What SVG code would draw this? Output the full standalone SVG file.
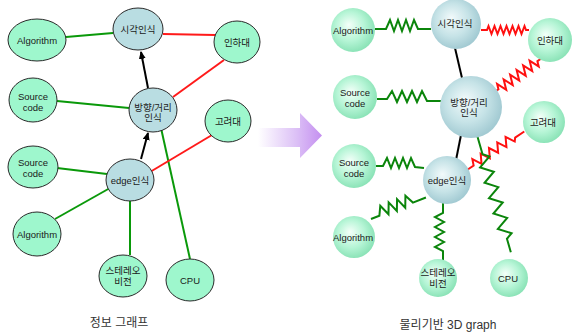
<svg xmlns="http://www.w3.org/2000/svg" width="576" height="334" viewBox="0 0 576 334">
  <defs>
    <style>
      text { font-family: "Liberation Sans", "Noto Sans CJK KR", sans-serif; font-size: 9.5px; fill: #1a1a1a; text-anchor: middle; }
      .title { font-size: 12px; fill: #333; }
      .lg { fill: #9ef7cd; stroke: #2a2a2a; stroke-width: 1; }
      .lb { fill: #b9dde2; stroke: #2a2a2a; stroke-width: 1; }
      .rg { fill: url(#gGreen); }
      .rb { fill: url(#gBlue); }
      .eg { stroke: #0a990a; stroke-width: 2; fill: none; }
      .er { stroke: #ff1a1a; stroke-width: 2; fill: none; }
      .ek { stroke: #000; stroke-width: 2; fill: none; }
      .sg { stroke: #0b850b; stroke-width: 2; fill: none; stroke-linejoin: miter; }
      .sr { stroke: #ff1010; stroke-width: 2; fill: none; stroke-linejoin: miter; }
    </style>
    <marker id="ah" markerWidth="8" markerHeight="8" refX="7" refY="3.5" orient="auto" markerUnits="userSpaceOnUse">
      <path d="M0,0 L8,3.5 L0,7 z" fill="#000"/>
    </marker>
    <radialGradient id="gGreen" cx="0.45" cy="0.45" r="0.6" fx="0.4" fy="0.38">
      <stop offset="0" stop-color="#f4fff9"/>
      <stop offset="0.55" stop-color="#b6f5d6"/>
      <stop offset="1" stop-color="#84e0b2"/>
    </radialGradient>
    <radialGradient id="gBlue" cx="0.45" cy="0.45" r="0.6" fx="0.4" fy="0.38">
      <stop offset="0" stop-color="#f2fafb"/>
      <stop offset="0.55" stop-color="#c6e3e7"/>
      <stop offset="1" stop-color="#9cc6cf"/>
    </radialGradient>
    <linearGradient id="gArrow" gradientUnits="userSpaceOnUse" x1="258" y1="0" x2="322" y2="0">
      <stop offset="0" stop-color="#ffffff"/>
      <stop offset="0.6" stop-color="#dcc0f6"/>
      <stop offset="1" stop-color="#c48ff0"/>
    </linearGradient>
  </defs>

  <rect width="576" height="334" fill="#ffffff"/>

  <!-- information graph: connectors -->
  <g id="info-edges">
    <line class="eg" x1="66" y1="37" x2="113" y2="33"/>
    <line class="er" x1="163" y1="34" x2="215" y2="35"/>
    <line class="ek" x1="148" y1="88" x2="141" y2="52" marker-end="url(#ah)"/>
    <line class="er" x1="173" y1="97" x2="224" y2="60"/>
    <line class="eg" x1="57" y1="101" x2="129" y2="108"/>
    <line class="eg" x1="161" y1="128" x2="190" y2="259"/>
    <line class="ek" x1="141" y1="159" x2="148" y2="133" marker-end="url(#ah)"/>
    <line class="er" x1="150" y1="172" x2="212" y2="135"/>
    <line class="eg" x1="57" y1="168" x2="107" y2="174"/>
    <line class="eg" x1="55" y1="219" x2="110" y2="188"/>
    <line class="eg" x1="130" y1="201" x2="130" y2="255"/>
  </g>

  <!-- information graph: nodes -->
  <g id="l-algorithm-1"><ellipse class="lg" cx="37" cy="40" rx="29" ry="21"/><text x="37" y="43.5">Algorithm</text></g>
  <g id="l-visual"><ellipse class="lb" cx="138" cy="29" rx="25" ry="21"/><text x="138" y="32.5">시각인식</text></g>
  <g id="l-inha"><ellipse class="lg" cx="237" cy="42" rx="23" ry="21"/><text x="237" y="45.5">인하대</text></g>
  <g id="l-source-1"><ellipse class="lg" cx="33" cy="100" rx="24" ry="22"/><text x="33" y="100">Source</text><text x="33" y="111">code</text></g>
  <g id="l-direction"><ellipse class="lb" cx="153" cy="110" rx="24" ry="22"/><text x="153" y="111">방향/거리</text><text x="153" y="121">인식</text></g>
  <g id="l-korea"><ellipse class="lg" cx="228" cy="121" rx="23" ry="21"/><text x="228" y="124.5">고려대</text></g>
  <g id="l-source-2"><ellipse class="lg" cx="33" cy="167" rx="25" ry="21"/><text x="33" y="166">Source</text><text x="33" y="177">code</text></g>
  <g id="l-edge"><ellipse class="lb" cx="130" cy="180" rx="24" ry="21"/><text x="130" y="183.5">edge인식</text></g>
  <g id="l-algorithm-2"><ellipse class="lg" cx="37" cy="234" rx="24" ry="22"/><text x="37" y="237.5">Algorithm</text></g>
  <g id="l-stereo"><ellipse class="lg" cx="123" cy="276" rx="24" ry="21"/><text x="123" y="273.5">스테레오</text><text x="123" y="285">비전</text></g>
  <g id="l-cpu"><ellipse class="lg" cx="190" cy="280" rx="24" ry="21"/><text x="190" y="283.5">CPU</text></g>

  <text class="title" x="119" y="327">정보 그래프</text>

  <!-- transition arrow -->
  <g id="transition-arrow">
    <path d="M258,128 H300 V113 L322,135.5 L300,158 V147 H258 z" fill="url(#gArrow)"/>
  </g>

  <!-- physics graph: spring connectors -->
  <g id="physics-edges">
    <line class="ek" x1="455" y1="48" x2="462" y2="78"/>
    <line class="ek" x1="461" y1="135" x2="456" y2="160"/>
    <!-- Algorithm - 시각인식 -->
    <path class="sg" d="M375,29 H386 L390,20 L394,31 L398,20 L402,31 L406,20 L410,31 L414,20 L418,29 H431"/>
    <!-- 시각인식 - 인하대 -->
    <path class="sr" d="M481,30 H487 l1.5,-4 l3,8 l3,-8 l3,8 l3,-8 l3,8 l3,-8 l3,8 l3,-8 l3,8 l3,-8 l3,8 l3,-8 l1.5,4 H529"/>
    <!-- Source code - 방향/거리 -->
    <path class="sg" d="M377,99 H387 L392,91 L397,102 L402,91 L407,102 L412,91 L417,102 L422,91 L427,101 H441"/>
    <!-- Source code - edge인식 -->
    <path class="sg" d="M376,166 H383 L387,158 L391,168 L395,158 L399,168 L403,158 L407,168 L411,158 L415,167 L424,168"/>
    <!-- Algorithm - edge인식 -->
    <path class="sg" transform="translate(371,219) rotate(-21.4)" d="M0,0 h9 l4.5,-9 l4.5,11 l4.5,-11 l4.5,11 l4.5,-11 l4.5,11 l4.5,-11 l4.5,9 h14"/>
    <!-- edge인식 - 스테레오 비전 -->
    <path class="sg" d="M443,202 V213 L435,217 L444,222 L435,227 L444,232 L435,237 L444,242 L435,247 L443,251 V262"/>
    <!-- 방향/거리 - 인하대 -->
    <path class="sr" transform="translate(496,91) rotate(-35.7)" d="M0,0 h3 l2,-5 l4,10 l4,-10 l4,10 l4,-10 l4,10 l4,-10 l4,10 l4,-10 l4,10 l4,-10 l4,10 l2,-5 h6"/>
    <!-- edge인식 - 고려대 -->
    <path class="sr" transform="translate(467,170) rotate(-33.9)" d="M0,0 h8 l2.5,-6 l5,9 l5,-9 l5,9 l5,-9 l5,9 l5,-9 l5,9 l5,-9 l5,9 l2.5,-3 h11"/>
    <!-- 방향/거리 - CPU -->
    <path class="sg" transform="translate(477,135) rotate(73.9)" d="M0,0 h20 l4,-6 l8,12 l8,-12 l8,12 l8,-12 l8,12 l8,-12 l8,12 l8,-12 l8,12 l8,-12 l4,6 h14"/>
  </g>

  <!-- physics graph: nodes -->
  <g id="p-algorithm-1"><circle class="rg" cx="353" cy="30" r="22"/><text x="353" y="34">Algorithm</text></g>
  <g id="p-visual"><circle class="rb" cx="456" cy="24" r="25"/><text x="455" y="26.5">시각인식</text></g>
  <g id="p-inha"><circle class="rg" cx="550" cy="40" r="22"/><text x="550" y="44">인하대</text></g>
  <g id="p-source-1"><circle class="rg" cx="355" cy="97" r="22"/><text x="355" y="95.5">Source</text><text x="355" y="106.5">code</text></g>
  <g id="p-direction"><circle class="rb" cx="471" cy="107" r="31"/><text x="469" y="105.5">방향/거리</text><text x="469" y="116">인식</text></g>
  <g id="p-korea"><circle class="rg" cx="544" cy="122" r="21"/><text x="543" y="125.5">고려대</text></g>
  <g id="p-source-2"><circle class="rg" cx="354" cy="166" r="22"/><text x="354" y="165.5">Source</text><text x="354" y="176.5">code</text></g>
  <g id="p-edge"><circle class="rb" cx="447" cy="180" r="24"/><text x="447" y="184">edge인식</text></g>
  <g id="p-algorithm-2"><circle class="rg" cx="354" cy="237" r="21"/><text x="353" y="241">Algorithm</text></g>
  <g id="p-stereo"><circle class="rg" cx="438" cy="278" r="19"/><text x="438" y="276">스테레오</text><text x="438" y="286.5">비전</text></g>
  <g id="p-cpu"><circle class="rg" cx="509" cy="278" r="19"/><text x="508" y="282">CPU</text></g>

  <text class="title" x="448" y="329">물리기반 3D graph</text>
</svg>
